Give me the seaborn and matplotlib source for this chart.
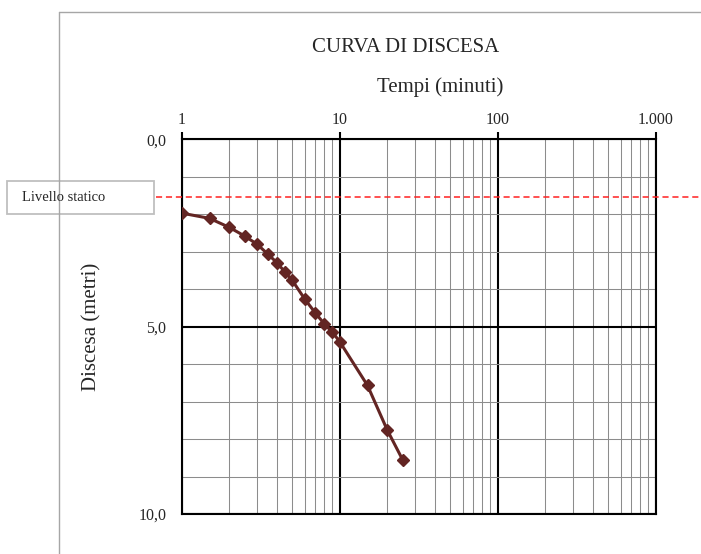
import matplotlib
matplotlib.use("Agg")
import matplotlib.pyplot as plt
import matplotlib.ticker as mticker
from matplotlib.lines import Line2D
from matplotlib.patches import Rectangle
import matplotlib.transforms as mtransforms
import pandas as pd
import seaborn as sns

# Dati della prova di pompaggio
tempi = [1, 1.5, 2, 2.5, 3, 3.5, 4, 4.5, 5, 6, 7, 8, 9, 10, 15, 20, 25]
discesa = [1.97, 2.11, 2.35, 2.58, 2.80, 3.06, 3.29, 3.54, 3.76, 4.26,
           4.63, 4.93, 5.15, 5.40, 6.57, 7.76, 8.55]
livello_statico = 1.53

x_ticks = [1, 10, 100, 1000]
x_tick_labels = ["1", "10", "100", "1.000"]
y_ticks = [0, 5, 10]
y_tick_labels = ["0,0", "5,0", "10,0"]

df = pd.DataFrame({"tempi": tempi, "discesa": discesa})

sns.set_style("white")
plt.rcParams['font.family'] = ['Liberation Serif', 'DejaVu Serif']

W, H = 701, 554
fig = plt.figure(figsize=(W / 100, H / 100), dpi=100)
ax = fig.add_axes([181.7 / W, 1 - 514 / H, 474 / W, 374.7 / H])

line_col = "#632523"
sns.lineplot(data=df, x="tempi", y="discesa", ax=ax, color=line_col,
             linewidth=2.2, marker="D", markersize=6,
             markeredgecolor=line_col, markeredgewidth=1.0, zorder=5)

ax.set_xscale("log")
ax.set_xlim(1, 1000)
ax.set_ylim(10, 0)

ax.xaxis.set_major_locator(mticker.FixedLocator(x_ticks))
ax.xaxis.set_major_formatter(mticker.FixedFormatter(x_tick_labels))
ax.xaxis.set_minor_locator(mticker.LogLocator(base=10, subs=range(2, 10)))
ax.xaxis.set_minor_formatter(mticker.NullFormatter())
ax.yaxis.set_major_locator(mticker.FixedLocator(y_ticks))
ax.yaxis.set_major_formatter(mticker.FixedFormatter(y_tick_labels))
ax.yaxis.set_minor_locator(mticker.MultipleLocator(1))

ax.xaxis.tick_top()
ax.tick_params(which="major", direction="out", length=5, width=1.5,
               color="black", labelsize=11.5, pad=6)
ax.tick_params(axis="x", which="major", pad=3)
ax.tick_params(which="minor", length=0)

ax.grid(which="minor", color="#8c8c8c", linewidth=0.75)
ax.grid(which="major", color="black", linewidth=1.5)
for s in ax.spines.values():
    s.set_visible(True)
    s.set_color("black")
    s.set_linewidth(1.5)
ax.set_xlabel("")
ax.set_ylabel("")

# testi
fig.text(311.7 / W, 1 - 52.3 / H, "CURVA DI DISCESA", fontsize=15,
         ha="left", va="baseline")
fig.text(377 / W, 1 - 91.7 / H, "Tempi (minuti)", fontsize=15,
         ha="left", va="baseline")
fig.text(92 / W, 1 - 327 / H, "Discesa (metri)", fontsize=15,
         rotation=90, ha="center", va="center")

# bordo area grafico
fig.add_artist(Line2D([59.3 / W, 1.0], [1 - 11.7 / H] * 2,
                      color="#a6a6a6", linewidth=1.0))
fig.add_artist(Line2D([59.3 / W] * 2, [0, 1 - 11.7 / H],
                      color="#a6a6a6", linewidth=1.0))

# livello statico
trans = mtransforms.blended_transform_factory(fig.transFigure, ax.transData)
ax.plot([156 / W, 1.0], [livello_statico] * 2, transform=trans,
        color="#ff2020", linewidth=1.1, linestyle=(0, (4, 2.5)),
        clip_on=False, zorder=4)
fig.add_artist(Rectangle((7 / W, 1 - 214 / H), 147 / W, 33 / H,
                         facecolor="white", edgecolor="#bfbfbf",
                         linewidth=1.3, transform=fig.transFigure))
fig.text(22 / W, 1 - 197.5 / H, "Livello statico", fontsize=10.5,
         ha="left", va="center")

fig.savefig("out.png", dpi=100)
